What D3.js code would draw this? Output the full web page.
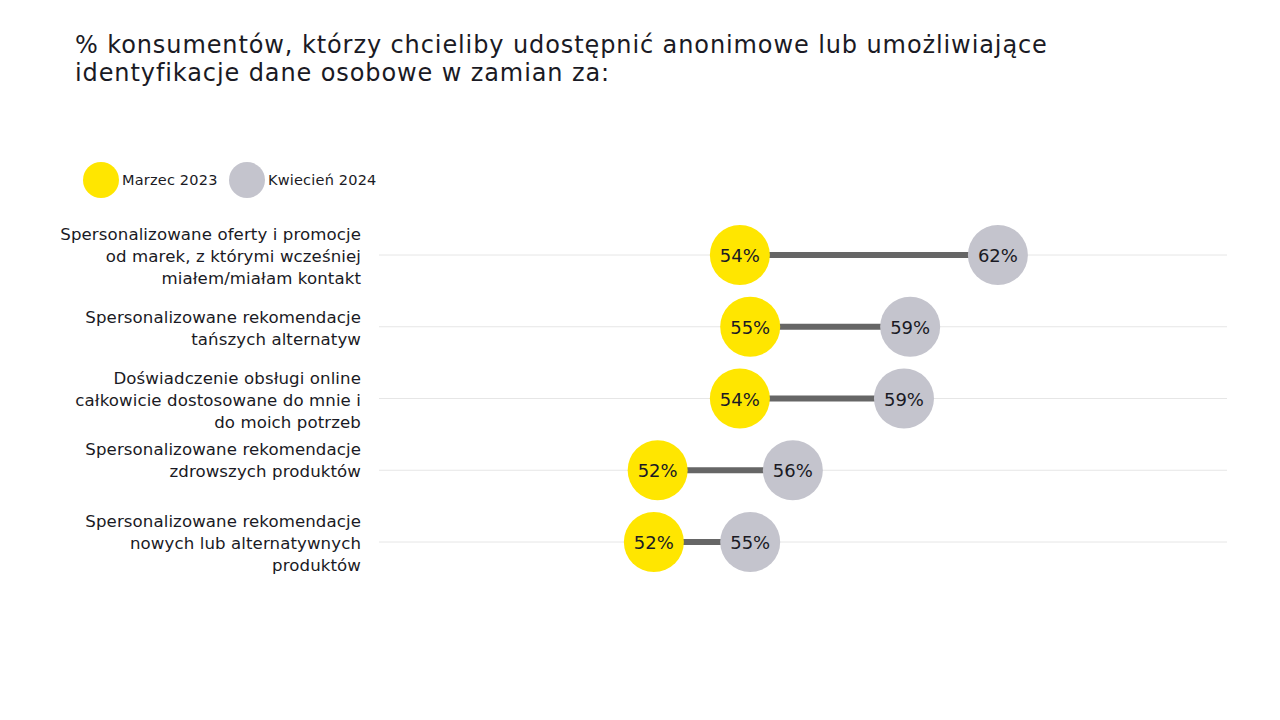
<!DOCTYPE html>
<html>
<head>
<meta charset="utf-8">
<script src="https://cdn.jsdelivr.net/npm/d3@7"></script>
<style>
  html, body { margin: 0; padding: 0; background: #fff; }
  svg { display: block; }
</style>
</head>
<body>
<svg id="chart" width="1280" height="720"></svg>
<script>
// ---- data ----
const titleLines = [
  "% konsumentów, którzy chcieliby udostępnić anonimowe lub umożliwiające",
  "identyfikacje dane osobowe w zamian za:"
];
const seriesNames = ["Marzec 2023", "Kwiecień 2024"];
const categories = [
  ["Spersonalizowane oferty i promocje", "od marek, z którymi wcześniej", "miałem/miałam kontakt"],
  ["Spersonalizowane rekomendacje", "tańszych alternatyw"],
  ["Doświadczenie obsługi online", "całkowicie dostosowane do mnie i", "do moich potrzeb"],
  ["Spersonalizowane rekomendacje", "zdrowszych produktów", ""],
  ["Spersonalizowane rekomendacje", "nowych lub alternatywnych", "produktów"]
];
const march2023 = [54.49, 54.79, 54.49, 52.10, 51.99];
const april2024 = [61.99, 59.44, 59.26, 56.03, 54.79];

// ---- styles ----
const FONT = "'DejaVu Sans', sans-serif";
const YELLOW = "#FFE600";
const GRAY = "#C4C4CD";
const CONNECT = "#666666";
const GRID = "#E6E6E6";
const TEXT = "#1A1A24";

const svg = d3.select("#chart");

// title
svg.append("g").selectAll("text").data(titleLines).join("text")
  .attr("x", 75)
  .attr("y", (d, i) => 53 + i * 28)
  .attr("font-family", FONT)
  .attr("font-size", 24)
  .attr("letter-spacing", 0.9)
  .attr("fill", TEXT)
  .text(d => d);

// legend
const legendX = [101, 247];
const leg = svg.append("g").selectAll("g").data(seriesNames).join("g")
  .attr("transform", (d, i) => `translate(${legendX[i]},180)`);
leg.append("circle").attr("r", 18).attr("fill", (d, i) => i === 0 ? YELLOW : GRAY);
leg.append("text")
  .attr("x", 21).attr("y", 5)
  .attr("font-family", FONT).attr("font-size", 14.5)
  .attr("letter-spacing", 0.2)
  .attr("fill", TEXT)
  .text(d => d);

// scales
const x = d3.scaleLinear().domain([44, 68.65]).range([379, 1227]);
const y = d3.scalePoint().domain(d3.range(categories.length)).range([255, 542]);

const rows = categories.map((c, i) => ({ lines: c, a: march2023[i], b: april2024[i], i }));

// gridlines
svg.append("g").selectAll("line").data(rows).join("line")
  .attr("x1", x.range()[0]).attr("x2", x.range()[1])
  .attr("y1", d => y(d.i)).attr("y2", d => y(d.i))
  .attr("stroke", GRID).attr("stroke-width", 1);

// category labels
const lh = 22;
svg.append("g").selectAll("text").data(rows).join("text")
  .attr("text-anchor", "end")
  .attr("font-family", FONT).attr("font-size", 16.6)
  .attr("letter-spacing", 0.1)
  .attr("fill", TEXT)
  .each(function (d) {
    const n = d.lines.length;
    d3.select(this).selectAll("tspan").data(d.lines).join("tspan")
      .attr("x", 361)
      .attr("y", (t, k) => y(d.i) + 7 + (k - (n - 1) / 2) * lh)
      .text(t => t);
  });

// connectors
svg.append("g").selectAll("line").data(rows).join("line")
  .attr("x1", d => x(d.a)).attr("x2", d => x(d.b))
  .attr("y1", d => y(d.i)).attr("y2", d => y(d.i))
  .attr("stroke", CONNECT).attr("stroke-width", 6);

const fmt = v => Math.round(v) + "%";
const R = 30;
function dots(key, color) {
  const g = svg.append("g").selectAll("g").data(rows).join("g")
    .attr("transform", d => `translate(${x(d[key])},${y(d.i)})`);
  g.append("circle").attr("r", R).attr("fill", color);
  g.append("text")
    .attr("text-anchor", "middle").attr("y", 7)
    .attr("font-family", FONT).attr("font-size", 18)
    .attr("fill", TEXT)
    .text(d => fmt(d[key]));
}
dots("a", YELLOW);
dots("b", GRAY);
</script>
</body>
</html>
